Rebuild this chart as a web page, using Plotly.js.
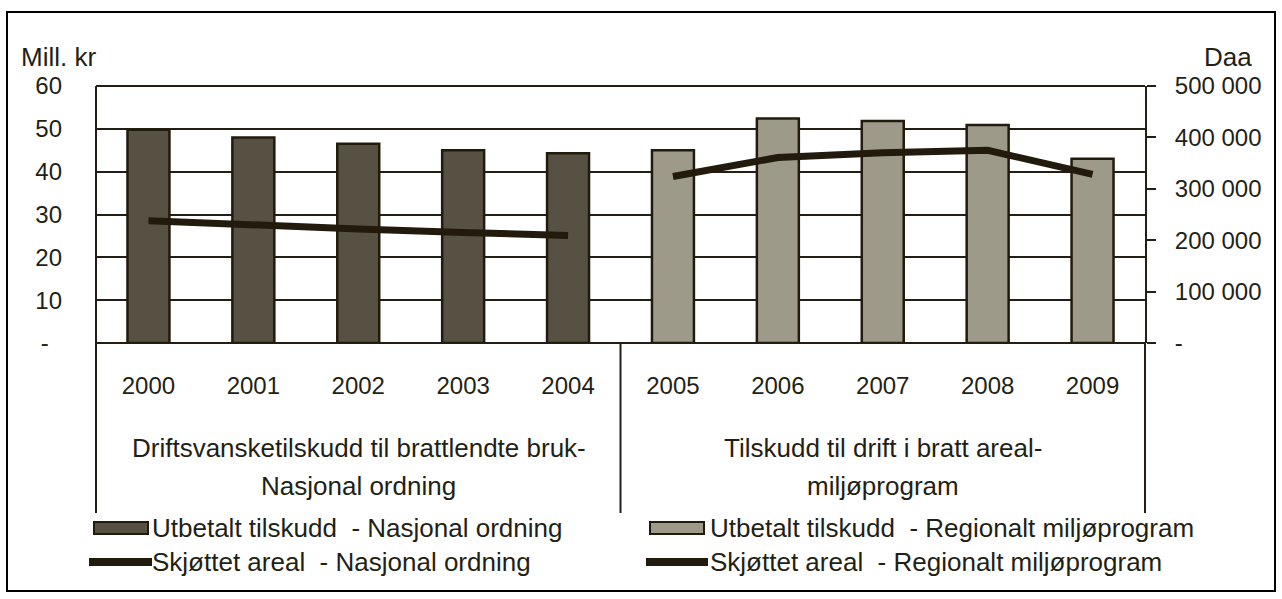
<!DOCTYPE html>
<html>
<head>
<meta charset="utf-8">
<script src="https://cdn.plot.ly/plotly-3.0.1.min.js"></script>
<style>html,body{margin:0;padding:0;background:#fff;}#chart{width:1282px;height:599px;}</style>
</head>
<body>
<div id="chart"></div>
<script>
// ---- data ----
const years = ['2000','2001','2002','2003','2004','2005','2006','2007','2008','2009'];
const nasjonalYears = ['2000','2001','2002','2003','2004'];
const regionalYears = ['2005','2006','2007','2008','2009'];
const utbetaltNasjonal = [49.8, 48.0, 46.5, 45.0, 44.3];      // Mill. kr
const utbetaltRegional = [45.0, 52.4, 51.8, 50.9, 43.0];      // Mill. kr
const arealNasjonal = [238000, 229000, 222000, 215000, 209000]; // Daa
const arealRegional = [324000, 361000, 370000, 375000, 328000]; // Daa
const leftTickVals = [0, 10, 20, 30, 40, 50, 60];
const leftTickText = ['-\u00a0\u00a0', '10', '20', '30', '40', '50', '60'];
const rightTickVals = [0, 100000, 200000, 300000, 400000, 500000];
const rightTickText = ['-', '100 000', '200 000', '300 000', '400 000', '500 000'];
const seriesNames = [
  'Utbetalt tilskudd\u00a0 - Nasjonal ordning',
  'Skjøttet areal\u00a0 - Nasjonal ordning',
  'Utbetalt tilskudd\u00a0 - Regionalt miljøprogram',
  'Skjøttet areal\u00a0 - Regionalt miljøprogram'
];
const groupLabels = [
  ['Driftsvansketilskudd til brattlendte bruk-', 'Nasjonal ordning'],
  ['Tilskudd til drift i bratt areal-', 'miljøprogram']
];
const leftTitle = 'Mill. kr';
const rightTitle = 'Daa';

// ---- style ----
const W = 1282, H = 599;
const M = {l: 96, r: 137, t: 86, b: 256};
const PW = W - M.l - M.r, PH = H - M.t - M.b;
const px = x => (x - M.l) / PW;
const py = y => (H - M.b - y) / PH;
const ink = '#231f14';
const dark = '#575143';
const light = '#9e9a8a';
const outline = '#231a0e';
const FONT = '"Liberation Sans", Arial, sans-serif';
const FS = 26;   // text
const FT = 24;   // numeric tick labels

const traces = [
  {type: 'bar', x: nasjonalYears, y: utbetaltNasjonal, name: seriesNames[0], width: 0.4,
   marker: {color: dark, line: {color: outline, width: 2.5}}, showlegend: false, hoverinfo: 'skip'},
  {type: 'bar', x: regionalYears, y: utbetaltRegional, name: seriesNames[2], width: 0.4,
   marker: {color: light, line: {color: outline, width: 2.5}}, showlegend: false, hoverinfo: 'skip'},
  {type: 'scatter', mode: 'lines', x: nasjonalYears, y: arealNasjonal, yaxis: 'y2', name: seriesNames[1],
   line: {color: outline, width: 7}, showlegend: false, hoverinfo: 'skip'},
  {type: 'scatter', mode: 'lines', x: regionalYears, y: arealRegional, yaxis: 'y2', name: seriesNames[3],
   line: {color: outline, width: 7}, showlegend: false, hoverinfo: 'skip'}
];

const yBottom = 513;
const shapes = [
  {type: 'line', xref: 'paper', yref: 'paper', x0: 0, x1: 1, y0: 1, y1: 1, line: {color: ink, width: 2}},
  {type: 'line', xref: 'paper', yref: 'paper', x0: 0, x1: 0, y0: py(yBottom), y1: 1, line: {color: ink, width: 2}},
  {type: 'line', xref: 'paper', yref: 'paper', x0: 0.5, x1: 0.5, y0: py(yBottom), y1: 0, line: {color: ink, width: 2}},
  {type: 'line', xref: 'paper', yref: 'paper', x0: 1, x1: 1, y0: py(yBottom), y1: 0, line: {color: ink, width: 2}},
  // outer frame
  {type: 'rect', xref: 'paper', yref: 'paper', x0: px(7), x1: px(1275), y0: py(591), y1: py(12), line: {color: '#000', width: 2}, fillcolor: 'rgba(0,0,0,0)'},
  // legend swatches
  {type: 'rect', xref: 'paper', yref: 'paper', x0: px(94), x1: px(148), y0: py(534), y1: py(522), fillcolor: dark, line: {color: outline, width: 2}},
  {type: 'line', xref: 'paper', yref: 'paper', x0: px(89), x1: px(152), y0: py(562), y1: py(562), line: {color: outline, width: 8}},
  {type: 'rect', xref: 'paper', yref: 'paper', x0: px(650), x1: px(704), y0: py(534), y1: py(522), fillcolor: light, line: {color: outline, width: 2}},
  {type: 'line', xref: 'paper', yref: 'paper', x0: px(646), x1: px(708), y0: py(562), y1: py(562), line: {color: outline, width: 8}}
];

const txt = (text, x, y, xanchor) => ({text, xref: 'paper', yref: 'paper', x: px(x), y: py(y), xanchor: xanchor || 'center', yanchor: 'middle', showarrow: false, borderpad: 0, font: {family: FONT, size: FS, color: ink}});
const annotations = [
  txt(leftTitle, 58, 57),
  txt(rightTitle, 1228, 57),
  txt(groupLabels[0][0], 358.5, 448),
  txt(groupLabels[0][1], 358.5, 486),
  txt(groupLabels[1][0], 883, 448),
  txt(groupLabels[1][1], 883, 486),
  txt(seriesNames[0], 151, 528, 'left'),
  txt(seriesNames[1], 151, 562, 'left'),
  txt(seriesNames[2], 709, 528, 'left'),
  txt(seriesNames[3], 709, 562, 'left')
];

const layout = {
  width: W, height: H,
  margin: {l: M.l, r: M.r, t: M.t, b: M.b, pad: 0},
  paper_bgcolor: '#fff', plot_bgcolor: '#fff',
  font: {family: FONT, size: FS, color: ink},
  barmode: 'overlay',
  showlegend: false,
  xaxis: {type: 'category', categoryorder: 'array', categoryarray: years, range: [-0.5, 9.5],
    tickvals: years, ticktext: years, showgrid: false, zeroline: false, showline: false, ticks: '',
    ticklabelstandoff: 26, tickfont: {family: FONT, size: FT, color: ink}, fixedrange: true},
  yaxis: {range: [0, 60], tickvals: leftTickVals, ticktext: leftTickText, showgrid: true, gridcolor: ink, gridwidth: 2,
    zeroline: true, zerolinecolor: ink, zerolinewidth: 2, showline: false, ticks: '', ticklabelstandoff: 33,
    tickfont: {family: FONT, size: FT, color: ink}, fixedrange: true},
  yaxis2: {overlaying: 'y', side: 'right', range: [0, 500000], tickvals: rightTickVals, ticktext: rightTickText,
    showgrid: false, zeroline: false, showline: true, linecolor: ink, linewidth: 2, ticks: 'outside', ticklen: 9,
    tickwidth: 2, tickcolor: ink, ticklabelstandoff: 14, tickfont: {family: FONT, size: FT, color: ink}, fixedrange: true},
  shapes, annotations
};

Plotly.newPlot('chart', traces, layout, {staticPlot: true, displayModeBar: false});
</script>
</body>
</html>
